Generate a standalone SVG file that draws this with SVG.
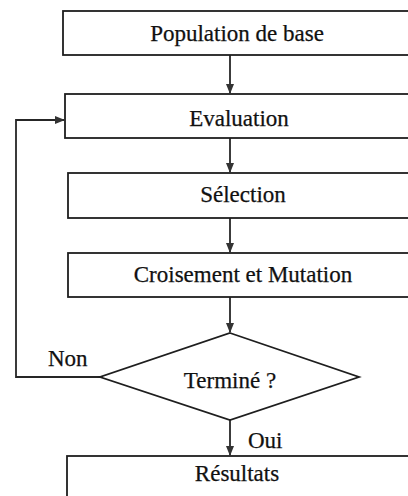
<svg xmlns="http://www.w3.org/2000/svg" width="408" height="496" viewBox="0 0 408 496">
<style>
.box{fill:#fff;stroke:#1e1e1e;stroke-width:1.8}
.t{font-family:'Liberation Serif','DejaVu Serif',serif;font-size:23px;fill:#111;stroke:#111;stroke-width:0.25}
.c{text-anchor:middle}
.ln{fill:none;stroke:#262626;stroke-width:1.8}
</style>
<defs>
<marker id="ah" markerWidth="10" markerHeight="10" refX="9" refY="5" orient="auto" markerUnits="userSpaceOnUse">
<path d="M0,1 L10,5 L0,9 Z" fill="#333"/>
</marker>
</defs>
<rect width="408" height="496" fill="#fff"/>
<g id="connectors">
<line class="ln" x1="230" y1="55" x2="230" y2="93" marker-end="url(#ah)"/>
<line class="ln" x1="230" y1="138" x2="230" y2="172" marker-end="url(#ah)"/>
<line class="ln" x1="230" y1="218" x2="230" y2="252" marker-end="url(#ah)"/>
<line class="ln" x1="230" y1="297" x2="230" y2="332" marker-end="url(#ah)"/>
<line class="ln" x1="230" y1="420" x2="230" y2="455" marker-end="url(#ah)"/>
<polyline class="ln" points="100,377 16,377 16,120 64,120" marker-end="url(#ah)"/>
<text class="t" x="48" y="366">Non</text>
<text class="t" x="248" y="448">Oui</text>
</g>
<g id="population">
<rect class="box" x="63" y="11" width="360" height="44"/>
<text class="t c" x="237" y="41">Population de base</text>
</g>
<g id="evaluation">
<rect class="box" x="65" y="94" width="360" height="44"/>
<text class="t c" x="239" y="126">Evaluation</text>
</g>
<g id="selection">
<rect class="box" x="68" y="173" width="360" height="45"/>
<text class="t c" x="243" y="202">Sélection</text>
</g>
<g id="croisement">
<rect class="box" x="68" y="253" width="360" height="44"/>
<text class="t c" x="243" y="282">Croisement et Mutation</text>
</g>
<g id="termine">
<polygon class="box" points="230,333 359,377 230,420 100,377"/>
<text class="t c" x="230" y="388">Terminé ?</text>
</g>
<g id="resultats">
<rect class="box" x="67" y="456" width="360" height="60"/>
<text class="t c" x="237" y="481">Résultats</text>
</g>
</svg>
